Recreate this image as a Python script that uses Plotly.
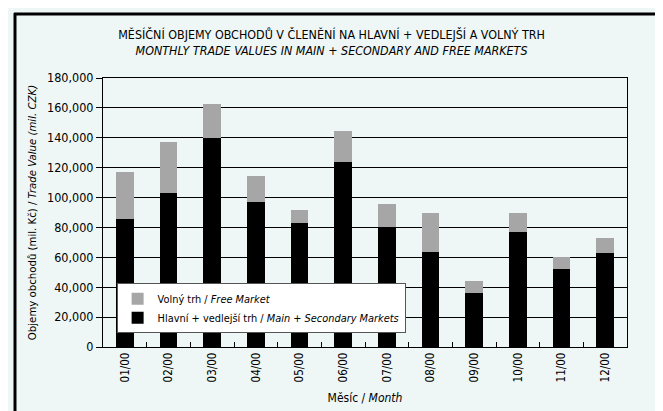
import plotly.graph_objects as go

months = ["01/00", "02/00", "03/00", "04/00", "05/00", "06/00",
          "07/00", "08/00", "09/00", "10/00", "11/00", "12/00"]
main_secondary = [85800, 103100, 139900, 97100, 83100, 123900,
                  80400, 63700, 36300, 77100, 52200, 63100]
totals = [117200, 137200, 162600, 114500, 91800, 144600,
          95800, 89800, 44300, 89800, 60200, 73100]
free_market = [t - m for t, m in zip(totals, main_secondary)]

FONT = "DejaVu Sans Condensed, sans-serif"
BG = "#eef7f6"

fig = go.Figure()
fig.add_trace(go.Bar(x=months, y=main_secondary,
                     name="Hlavní + vedlejší trh / <i>Main + Secondary Markets</i>",
                     marker=dict(color="#000000", line=dict(width=0)), width=0.41))
fig.add_trace(go.Bar(x=months, y=free_market,
                     name="Volný trh / <i>Free Market</i>",
                     marker=dict(color="#a6a6a6", line=dict(width=0)), width=0.41))

fig.update_layout(
    barmode="stack",
    width=663, height=411,
    margin=dict(l=95, r=44, t=70, b=72),
    paper_bgcolor=BG, plot_bgcolor=BG,
    font=dict(family=FONT, color="#000", size=12),
    title=dict(text="MĚSÍČNÍ OBJEMY OBCHODŮ V ČLENĚNÍ NA HLAVNÍ + VEDLEJŠÍ A VOLNÝ TRH<br><i>MONTHLY TRADE VALUES IN MAIN + SECONDARY AND FREE MARKETS</i>",
               x=0.488, xref="container", xanchor="center", y=0.925, yanchor="middle",
               font=dict(size=12.4, family=FONT)),
    legend=dict(x=0.026, y=0.237, xanchor="left", yanchor="top",
                bgcolor="#ffffff", bordercolor="#555555", borderwidth=1,
                font=dict(size=10.9), itemsizing="constant",
                tracegroupgap=0, itemwidth=30),
    xaxis=dict(type="category", tickangle=-90, ticks="inside", tickson="boundaries",
               ticklen=5, tickcolor="#000", showline=True, linecolor="#000", linewidth=1,
               mirror=True, showgrid=False,
               title=dict(text="Měsíc / <i>Month</i>", font=dict(size=12), standoff=12),
               tickfont=dict(size=11.5)),
    yaxis=dict(range=[0, 180000], dtick=20000, tickformat=",d",
               ticks="outside", ticklen=6, tickcolor="#000",
               showline=True, linecolor="#000", linewidth=1, mirror=True,
               showgrid=True, gridcolor="#000", gridwidth=1, zeroline=False,
               title=dict(text="Objemy obchodů (mil. Kč) / <i>Trade Value (mil. CZK)</i>",
                          font=dict(size=11.3), standoff=8),
               tickfont=dict(size=12.5)),
    showlegend=True,
)

# outer frame (top and left edges visible)
fig.add_shape(type="line", xref="paper", yref="paper",
              x0=(6 - 95) / 524, x1=(700 - 95) / 524,
              y0=(339 - 6) / 269, y1=(339 - 6) / 269,
              line=dict(color="#000", width=3))
fig.add_shape(type="line", xref="paper", yref="paper",
              x0=(7 - 95) / 524, x1=(7 - 95) / 524,
              y0=(339 - 5) / 269, y1=(339 - 420) / 269,
              line=dict(color="#000", width=3))

fig.write_html("out.html")
